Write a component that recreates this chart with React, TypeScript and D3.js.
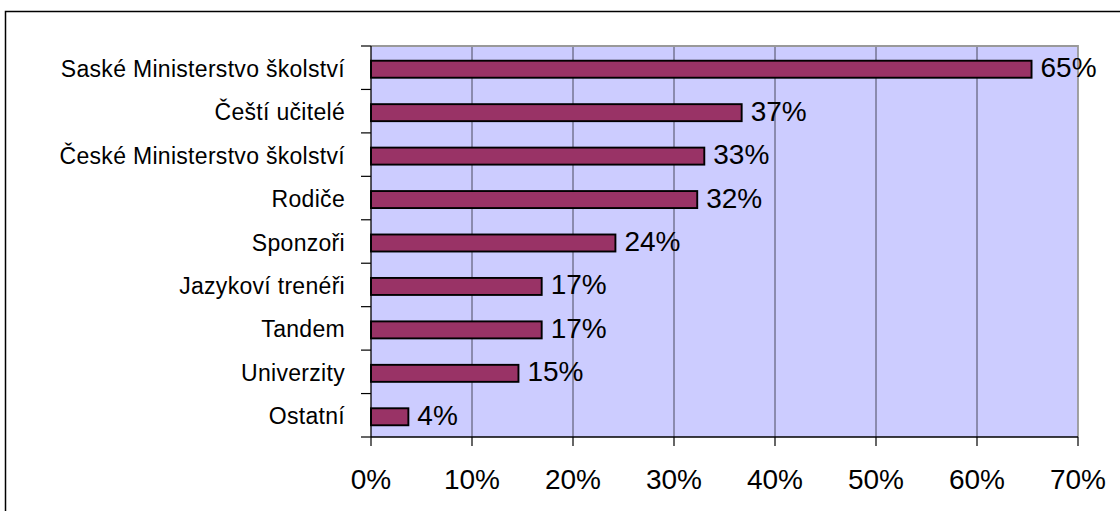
import React from "react";
import * as d3 from "d3";

const categories: string[] = [
  "Saské Ministerstvo školství",
  "Čeští učitelé",
  "České Ministerstvo školství",
  "Rodiče",
  "Sponzoři",
  "Jazykoví trenéři",
  "Tandem",
  "Univerzity",
  "Ostatní",
];
const values: number[] = [65.4, 36.7, 33.0, 32.3, 24.2, 16.9, 16.9, 14.6, 3.7];
const valueLabels: string[] = ["65%", "37%", "33%", "32%", "24%", "17%", "17%", "15%", "4%"];
const xTicks: number[] = [0, 10, 20, 30, 40, 50, 60, 70];

const W = 1120;
const H = 511;
const plot = { left: 371, right: 1078, top: 46, bottom: 437 };
const font = "Arial, 'Liberation Sans', Helvetica, sans-serif";

export default function App() {
  const x = d3.scaleLinear().domain([0, 70]).range([plot.left, plot.right]);
  const y = d3
    .scaleBand<string>()
    .domain(categories)
    .range([plot.top, plot.bottom])
    .paddingInner(0)
    .paddingOuter(0);
  const bw = y.bandwidth();
  const barH = 17;
  const boundaries = d3.range(categories.length + 1).map((i) => plot.top + i * bw);

  return (
    <svg
      width={W}
      height={H}
      style={{ position: "absolute", left: 0, top: 0, background: "#fff" }}
      fontFamily={font}
    >
      <rect x={0} y={0} width={W} height={H} fill="#fff" />
      {/* outer chart border */}
      <rect x={5.5} y={11.5} width={W + 20} height={H + 20} fill="none" stroke="#000" strokeWidth={1.5} />
      {/* plot background */}
      <rect
        x={plot.left}
        y={plot.top}
        width={plot.right - plot.left}
        height={plot.bottom - plot.top}
        fill="#CCCCFF"
      />
      {/* gridlines */}
      {xTicks.slice(1, -1).map((t) => (
        <line key={"g" + t} x1={x(t)} x2={x(t)} y1={plot.top} y2={plot.bottom} stroke="#5f5f78" strokeWidth={1.2} />
      ))}
      {/* plot border top/right gray */}
      <path
        d={`M${plot.left},${plot.top}H${plot.right}V${plot.bottom}`}
        fill="none"
        stroke="#999"
        strokeWidth={1.8}
      />
      {/* bars */}
      {categories.map((c, i) => {
        const cy = (y(c) as number) + bw / 2 + 1.5;
        return (
          <rect
            key={c}
            x={x(0)}
            y={cy - barH / 2}
            width={x(values[i]) - x(0)}
            height={barH}
            fill="#993366"
            stroke="#000"
            strokeWidth={1.9}
          />
        );
      })}
      {/* value labels */}
      {categories.map((c, i) => {
        const cy = (y(c) as number) + bw / 2;
        return (
          <text key={"v" + c} x={x(values[i]) + 9} y={cy + 9.5} fontSize={28} fill="#000">
            {valueLabels[i]}
          </text>
        );
      })}
      {/* left axis */}
      <line x1={plot.left} x2={plot.left} y1={plot.top} y2={plot.bottom} stroke="#000" strokeWidth={1.3} />
      {boundaries.map((b, i) => (
        <line key={"lt" + i} x1={plot.left - 10} x2={plot.left} y1={b} y2={b} stroke="#000" strokeWidth={1.2} />
      ))}
      {categories.map((c) => (
        <text
          key={"c" + c}
          x={345}
          y={(y(c) as number) + bw / 2 + 9}
          textAnchor="end"
          fontSize={23}
          letterSpacing={0.3}
          fill="#000"
        >
          {c}
        </text>
      ))}
      {/* bottom axis */}
      <line x1={plot.left} x2={plot.right} y1={plot.bottom} y2={plot.bottom} stroke="#000" strokeWidth={1.3} />
      {xTicks.map((t) => (
        <g key={"bt" + t}>
          <line x1={x(t)} x2={x(t)} y1={plot.bottom} y2={plot.bottom + 9} stroke="#000" strokeWidth={1.2} />
          <text x={x(t)} y={489} textAnchor="middle" fontSize={28} fill="#000">
            {t + "%"}
          </text>
        </g>
      ))}
    </svg>
  );
}
